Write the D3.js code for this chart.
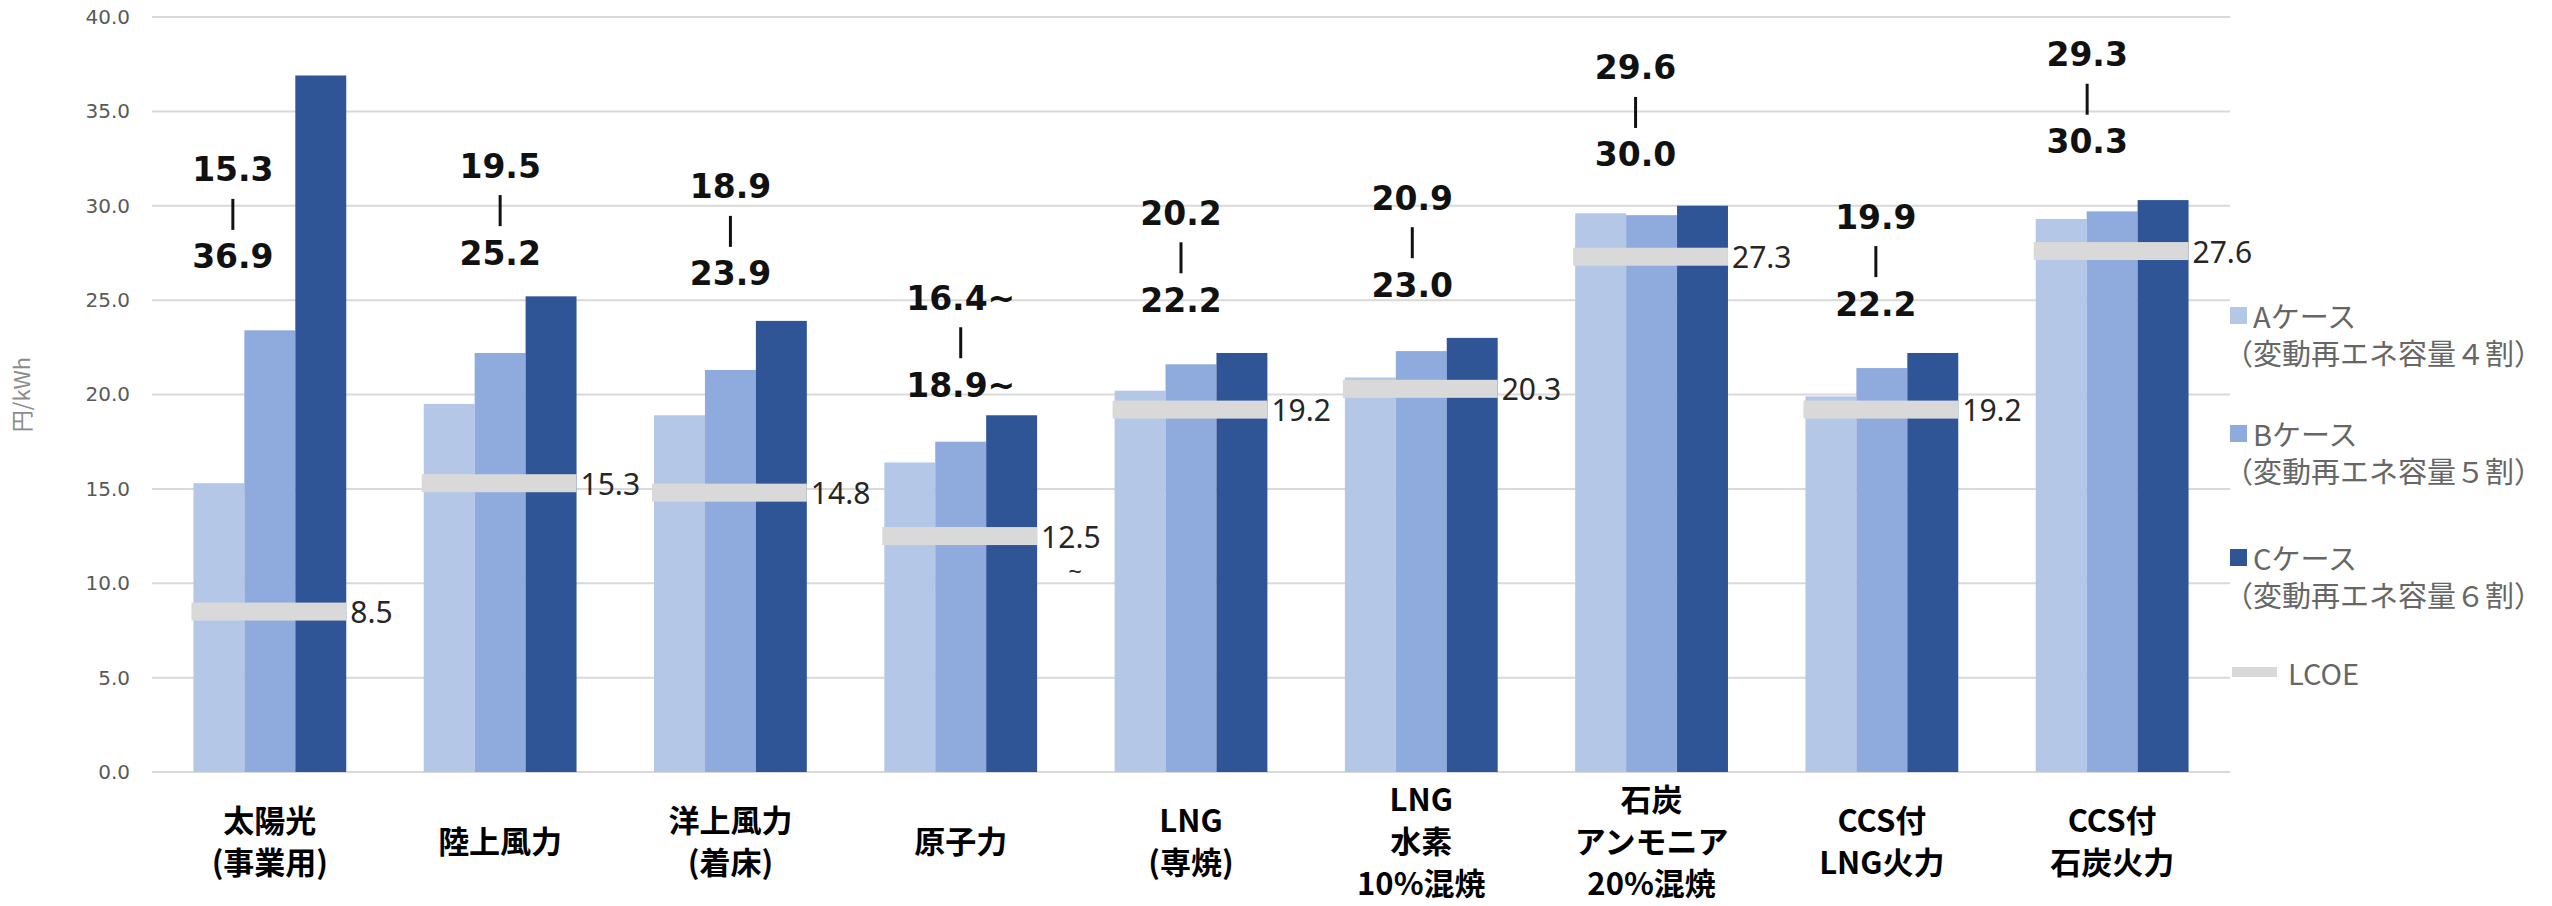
<!DOCTYPE html>
<html>
<head>
<meta charset="utf-8">
<script src="https://cdn.jsdelivr.net/npm/d3@7"></script>
<style>
  html, body { margin: 0; padding: 0; background: #fff; }
  svg { display: block; }
</style>
</head>
<body>
<div id="chart"></div>
<script>
// data (円/kWh)
const categories = [
  ['太陽光', '(事業用)'],
  ['陸上風力'],
  ['洋上風力', '(着床)'],
  ['原子力'],
  ['LNG', '(専焼)'],
  ['LNG', '水素', '10%混焼'],
  ['石炭', 'アンモニア', '20%混焼'],
  ['CCS付', 'LNG火力'],
  ['CCS付', '石炭火力']
];
const caseA = [15.3, 19.5, 18.9, 16.4, 20.2, 20.9, 29.6, 19.9, 29.3];
const caseB = [23.4, 22.2, 21.3, 17.5, 21.6, 22.3, 29.5, 21.4, 29.7];
const caseC = [36.9, 25.2, 23.9, 18.9, 22.2, 23.0, 30.0, 22.2, 30.3];
const lcoe = [8.5, 15.3, 14.8, 12.5, 19.2, 20.3, 27.3, 19.2, 27.6];
const lowerBound = [false, false, false, true, false, false, false, false, false];
const yTicks = [0, 5, 10, 15, 20, 25, 30, 35, 40];
const seriesNames = ['A', 'B', 'C'];
const legendLabels = [
  ['Aケース', '（変動再エネ容量４割）'],
  ['Bケース', '（変動再エネ容量５割）'],
  ['Cケース', '（変動再エネ容量６割）']
];

// where the range annotations sit (value units) and small x nudges
const annoLevel = [31.9, 32.1, 31.0, 25.1, 29.6, 30.4, 37.3, 29.4, 38.0];
const annoDx = [-37, 0, 0, 0, -10, -9, -16, -6, -25];

const colors = { A: '#b4c7e7', B: '#8faadc', C: '#2f5597' };

const W = 2552, H = 906;
const svg = d3.select('#chart').append('svg')
  .attr('width', W)
  .attr('height', H);

svg.append('rect').attr('width', W).attr('height', H).attr('fill', '#fff');

const y = d3.scaleLinear().domain([0, 40]).range([772, 17]);
const x = d3.scaleBand()
  .domain(d3.range(categories.length))
  .range([152, 2230])
  .paddingInner(0.3365)
  .paddingOuter(0.18);
const xs = d3.scaleBand().domain(seriesNames).range([0, x.bandwidth()]);

// grid
svg.append('g')
  .selectAll('line')
  .data(yTicks)
  .join('line')
  .attr('x1', 152)
  .attr('x2', 2230)
  .attr('y1', d => y(d))
  .attr('y2', d => y(d))
  .attr('stroke', '#d9d9d9')
  .attr('stroke-width', 2);

// y axis labels
const yAxis = svg.append('g')
  .attr('transform', 'translate(130,0)')
  .call(d3.axisLeft(y).tickValues(yTicks).tickFormat(d3.format('.1f')).tickSize(0).tickPadding(0));
yAxis.select('.domain').remove();
yAxis.selectAll('text')
  .attr('font-family', 'DejaVu Sans')
  .attr('font-size', 20)
  .attr('fill', '#595959');

svg.append('text')
  .attr('transform', `translate(24,${y(20)}) rotate(-90)`)
  .attr('text-anchor', 'middle')
  .attr('dominant-baseline', 'middle')
  .attr('font-family', 'Noto Sans CJK JP')
  .attr('font-size', 22)
  .attr('fill', '#8c8c8c')
  .text('円/kWh');

// bars
const rows = categories.map((c, i) => ({ i, A: caseA[i], B: caseB[i], C: caseC[i] }));
const groups = svg.append('g')
  .selectAll('g')
  .data(rows)
  .join('g')
  .attr('transform', d => `translate(${x(d.i)},0)`);

groups.selectAll('rect')
  .data(d => seriesNames.map(k => ({ k, v: d[k] })))
  .join('rect')
  .attr('x', d => xs(d.k))
  .attr('width', xs.bandwidth())
  .attr('y', d => y(d.v))
  .attr('height', d => y(0) - y(d.v))
  .attr('fill', d => colors[d.k]);

// LCOE bands
svg.append('g')
  .selectAll('rect')
  .data(lcoe)
  .join('rect')
  .attr('x', (d, i) => x(i) - 2)
  .attr('width', x.bandwidth() + 2)
  .attr('y', d => y(d) - 9)
  .attr('height', 18)
  .attr('fill', '#d9d9d9');

const lcoeLabels = svg.append('g')
  .attr('font-family', 'Noto Sans')
  .attr('font-size', 30)
  .attr('fill', '#262626');
lcoeLabels.selectAll('text.v')
  .data(lcoe)
  .join('text')
  .attr('class', 'v')
  .attr('x', (d, i) => x(i) + x.bandwidth() + 4)
  .attr('y', d => y(d))
  .attr('dominant-baseline', 'central')
  .text(d => d.toFixed(1));
lcoeLabels.selectAll('text.t')
  .data(lcoe.map((d, i) => ({ d, i })).filter(o => lowerBound[o.i]))
  .join('text')
  .attr('class', 't')
  .attr('x', o => x(o.i) + x.bandwidth() + 38)
  .attr('y', o => y(o.d) + 34)
  .attr('text-anchor', 'middle')
  .attr('dominant-baseline', 'central')
  .attr('font-size', 24)
  .text('~');

// range annotations above each group
const anno = svg.append('g')
  .attr('font-family', 'DejaVu Sans')
  .attr('font-weight', 'bold')
  .attr('font-size', 33)
  .attr('fill', '#111')
  .attr('text-anchor', 'middle');

categories.forEach((c, i) => {
  const cx = x(i) + x.bandwidth() / 2 + annoDx[i];
  const y1 = y(annoLevel[i]);
  const suf = lowerBound[i] ? '~' : '';
  anno.append('text')
    .attr('x', cx).attr('y', y1)
    .attr('dominant-baseline', 'central')
    .text(caseA[i].toFixed(1) + suf);
  anno.append('line')
    .attr('x1', cx).attr('x2', cx)
    .attr('y1', y1 + 29).attr('y2', y1 + 60)
    .attr('stroke', '#111')
    .attr('stroke-width', 3);
  anno.append('text')
    .attr('x', cx).attr('y', y1 + 87)
    .attr('dominant-baseline', 'central')
    .text(caseC[i].toFixed(1) + suf);
});

// category labels
const catG = svg.append('g')
  .attr('font-family', 'Noto Sans CJK JP')
  .attr('font-weight', 'bold')
  .attr('font-size', 31)
  .attr('fill', '#000')
  .attr('text-anchor', 'middle');

categories.forEach((lines, i) => {
  const cx = x(i) + x.bandwidth() / 2;
  const lh = 42;
  const top = 839 - (lines.length - 1) * lh / 2;
  lines.forEach((t, j) => {
    catG.append('text')
      .attr('x', cx)
      .attr('y', top + j * lh)
      .attr('dominant-baseline', 'central')
      .text(t);
  });
});

// legend
const legend = svg.append('g')
  .attr('font-family', 'Noto Sans CJK JP')
  .attr('font-size', 29)
  .attr('fill', '#666');
const legendY = [315, 433, 557];
seriesNames.forEach((k, i) => {
  const ly = legendY[i];
  legend.append('rect')
    .attr('x', 2230).attr('y', ly - 8)
    .attr('width', 17).attr('height', 17)
    .attr('fill', colors[k]);
  legend.append('text')
    .attr('x', 2253).attr('y', ly)
    .attr('dominant-baseline', 'central')
    .text(legendLabels[i][0]);
  legend.append('text')
    .attr('x', 2224).attr('y', ly + 37)
    .attr('dominant-baseline', 'central')
    .text(legendLabels[i][1]);
});
legend.append('rect')
  .attr('x', 2232).attr('y', 667)
  .attr('width', 45).attr('height', 10)
  .attr('fill', '#d9d9d9');
legend.append('text')
  .attr('x', 2288).attr('y', 672)
  .attr('dominant-baseline', 'central')
  .text('LCOE');
</script>
</body>
</html>
